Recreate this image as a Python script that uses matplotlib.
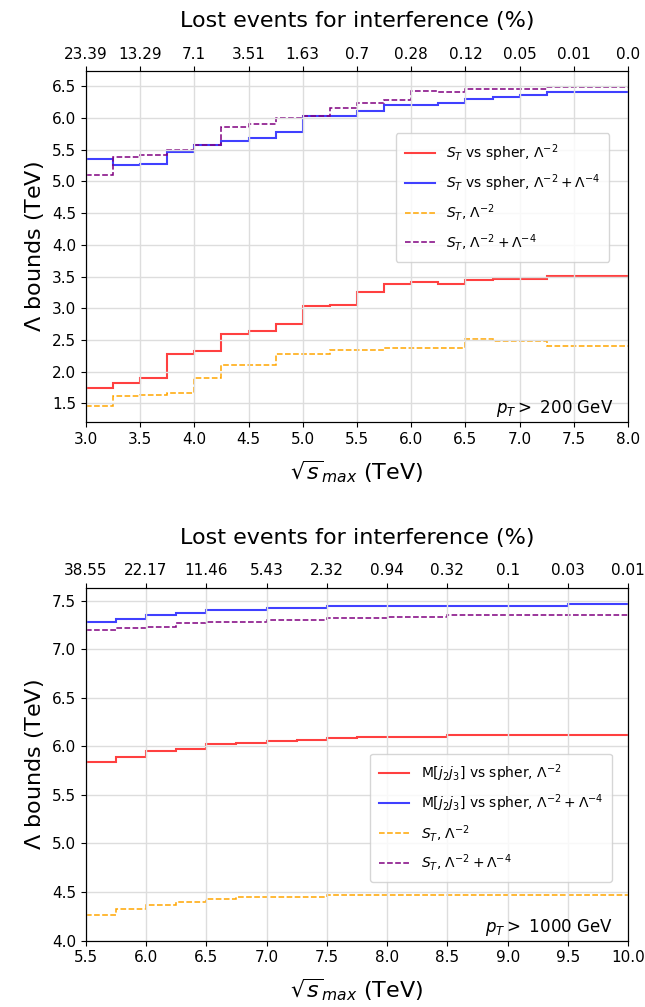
import numpy as np
import matplotlib.pyplot as plt
from matplotlib.ticker import MultipleLocator, FormatStrFormatter

# Top panel: pT > 200 GeV, sqrt(s)_max bins from 3.0 to 8.0 TeV
edges1 = np.arange(3.0, 8.01, 0.25)
red1 = [1.74, 1.82, 1.90, 2.28, 2.33, 2.59, 2.64, 2.76, 3.03, 3.05,
        3.25, 3.38, 3.41, 3.38, 3.44, 3.46, 3.46, 3.51, 3.51, 3.51]
blue1 = [5.35, 5.25, 5.27, 5.47, 5.58, 5.63, 5.68, 5.77, 6.03, 6.03,
         6.11, 6.21, 6.21, 6.23, 6.30, 6.33, 6.36, 6.41, 6.41, 6.41]
orange1 = [1.46, 1.62, 1.63, 1.67, 1.90, 2.11, 2.11, 2.28, 2.28, 2.35,
           2.35, 2.38, 2.38, 2.38, 2.51, 2.48, 2.48, 2.41, 2.41, 2.41]
purple1 = [5.10, 5.38, 5.42, 5.49, 5.58, 5.85, 5.90, 6.00, 6.03, 6.15,
           6.23, 6.28, 6.43, 6.41, 6.46, 6.46, 6.46, 6.48, 6.48, 6.48]
ticks1 = np.arange(3.0, 8.01, 0.5)
lost1 = ["23.39", "13.29", "7.1", "3.51", "1.63", "0.7", "0.28", "0.12", "0.05", "0.01", "0.0"]

# Bottom panel: pT > 1000 GeV, sqrt(s)_max bins from 5.5 to 10.0 TeV
edges2 = np.arange(5.5, 10.01, 0.25)
red2 = [5.84, 5.89, 5.95, 5.97, 6.02, 6.03, 6.05, 6.07, 6.09,
        6.10, 6.10, 6.10, 6.12, 6.12, 6.12, 6.12, 6.12, 6.12]
blue2 = [7.28, 7.31, 7.35, 7.37, 7.40, 7.40, 7.42, 7.43, 7.45,
         7.45, 7.45, 7.45, 7.45, 7.45, 7.45, 7.45, 7.47, 7.47]
orange2 = [4.26, 4.32, 4.37, 4.40, 4.43, 4.45, 4.45, 4.45, 4.47,
           4.47, 4.47, 4.47, 4.47, 4.47, 4.47, 4.47, 4.47, 4.47]
purple2 = [7.20, 7.22, 7.23, 7.27, 7.28, 7.28, 7.30, 7.30, 7.32,
           7.32, 7.33, 7.33, 7.35, 7.35, 7.35, 7.35, 7.35, 7.35]
ticks2 = np.arange(5.5, 10.01, 0.5)
lost2 = ["38.55", "22.17", "11.46", "5.43", "2.32", "0.94", "0.32", "0.1", "0.03", "0.01"]

labels1 = [r"$S_T$ vs spher, $\Lambda^{-2}$",
           r"$S_T$ vs spher, $\Lambda^{-2}+\Lambda^{-4}$",
           r"$S_T$, $\Lambda^{-2}$",
           r"$S_T$, $\Lambda^{-2}+\Lambda^{-4}$"]
labels2 = [r"M[$j_2 j_3$] vs spher, $\Lambda^{-2}$",
           r"M[$j_2 j_3$] vs spher, $\Lambda^{-2}+\Lambda^{-4}$",
           r"$S_T$, $\Lambda^{-2}$",
           r"$S_T$, $\Lambda^{-2}+\Lambda^{-4}$"]

fig = plt.figure(figsize=(6.45, 10.07), dpi=100)
ax1 = fig.add_axes([0.133, 0.581, 0.841, 0.348])
ax2 = fig.add_axes([0.133, 0.066, 0.841, 0.350])


def panel(ax, edges, red, blue, orange, purple, labels, ticks, lost, ptlabel, legpos):
    ax.stairs(red, edges, baseline=None, color="red", alpha=0.75, lw=1.5, label=labels[0])
    ax.stairs(blue, edges, baseline=None, color="blue", alpha=0.75, lw=1.5, label=labels[1])
    ax.stairs(orange, edges, baseline=None, color="orange", ls="--", lw=1.1, label=labels[2])
    ax.stairs(purple, edges, baseline=None, color="purple", ls="--", lw=1.1, label=labels[3])
    ax.set_xlim(edges[0], edges[-1])
    ax.set_xticks(ticks)
    ax.yaxis.set_major_locator(MultipleLocator(0.5))
    ax.yaxis.set_major_formatter(FormatStrFormatter("%.1f"))
    ax.grid(color="#dddddd", lw=1)
    ax.tick_params(labelsize=11)
    ax.set_xlabel(r"$\sqrt{s}_{max}$ (TeV)", fontsize=16, labelpad=8)
    ax.set_ylabel(r"$\Lambda$ bounds (TeV)", fontsize=16)
    ax.legend(loc="upper right", bbox_to_anchor=legpos, fontsize=10,
              labelspacing=0.6, handlelength=2.2, handletextpad=0.8, borderpad=0.65)
    ax.text(0.972, 0.008, ptlabel, transform=ax.transAxes, ha="right", va="bottom", fontsize=12)
    top = ax.twiny()
    top.set_xlim(ax.get_xlim())
    top.set_xticks(ticks)
    top.set_xticklabels(lost)
    top.tick_params(labelsize=11)
    top.set_xlabel("Lost events for interference (%)", fontsize=16, labelpad=14)


panel(ax1, edges1, red1, blue1, orange1, purple1, labels1, ticks1, lost1,
      r"$p_T >$ 200 GeV", (0.978, 0.843))
panel(ax2, edges2, red2, blue2, orange2, purple2, labels2, ticks2, lost2,
      r"$p_T >$ 1000 GeV", (0.983, 0.55))
ax2.set_ylim(4.0, 7.63)

fig.savefig("out.png", dpi=100)
